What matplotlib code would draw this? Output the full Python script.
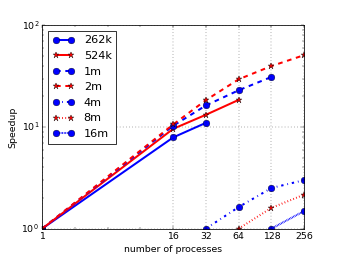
import matplotlib
matplotlib.use("Agg")
import matplotlib.pyplot as plt
from matplotlib.ticker import FixedLocator, NullFormatter

plt.style.use('classic')

# data
x_262k = [1, 16, 32]
y_262k = [1.0, 7.9, 11.0]
x_524k = [1, 16, 32, 64]
y_524k = [1.0, 9.6, 13.2, 18.5]
x_1m = [1, 16, 32, 64, 128]
y_1m = [1.0, 10.3, 16.3, 23.0, 31.1]
x_2m = [1, 16, 32, 64, 128, 256]
y_2m = [1.0, 10.6, 18.4, 29.5, 39.8, 51.0]
x_4m = [32, 64, 128, 256]
y_4m = [1.0, 1.63, 2.51, 3.0]
x_8m = [64, 128, 256]
y_8m = [1.0, 1.6, 2.16]
x_16m = [128, 256]
y_16m = [1.0, 1.49]
labels = ['262k', '524k', '1m', '2m', '4m', '8m', '16m']
xticks = [1, 16, 32, 64, 128, 256]
xtick_labels = ['1', '16', '32', '64', '128', '256']

dpi = 56
fig = plt.figure(figsize=(338 / dpi, 254 / dpi), dpi=dpi, facecolor='white')
ax = fig.add_subplot(111)

ms = 8.6
lw = 2.6
ax.plot(x_262k, y_262k, 'bo-', lw=lw, ms=ms, label=labels[0])
ax.plot(x_524k, y_524k, 'r*-', lw=lw, ms=ms, label=labels[1])
ax.plot(x_1m, y_1m, 'bo--', lw=lw, ms=ms, label=labels[2])
ax.plot(x_2m, y_2m, 'r*--', lw=lw, ms=ms, label=labels[3])
ax.plot(x_4m, y_4m, 'bo-.', lw=lw, ms=ms, label=labels[4])
ax.plot(x_8m, y_8m, 'r*:', lw=lw, ms=ms, label=labels[5])
l16, = ax.plot(x_16m, y_16m, 'bo', ls=(0, (1, 1)), lw=lw, ms=ms, label=labels[6])

ax.set_xscale('log', base=2)
ax.set_yscale('log')
ax.set_xlim(1, 256)
ax.set_ylim(1, 100)
ax.xaxis.set_major_locator(FixedLocator(xticks))
ax.set_xticklabels(xtick_labels)
ax.xaxis.set_minor_locator(FixedLocator([2, 4, 8]))
ax.xaxis.set_minor_formatter(NullFormatter())
ax.grid(True, which='major')
ax.set_xlabel('number of processes')
ax.set_ylabel('Speedup')
ax.legend(loc='upper left', numpoints=2)

fig.savefig('out.png', dpi=dpi, facecolor='white')
